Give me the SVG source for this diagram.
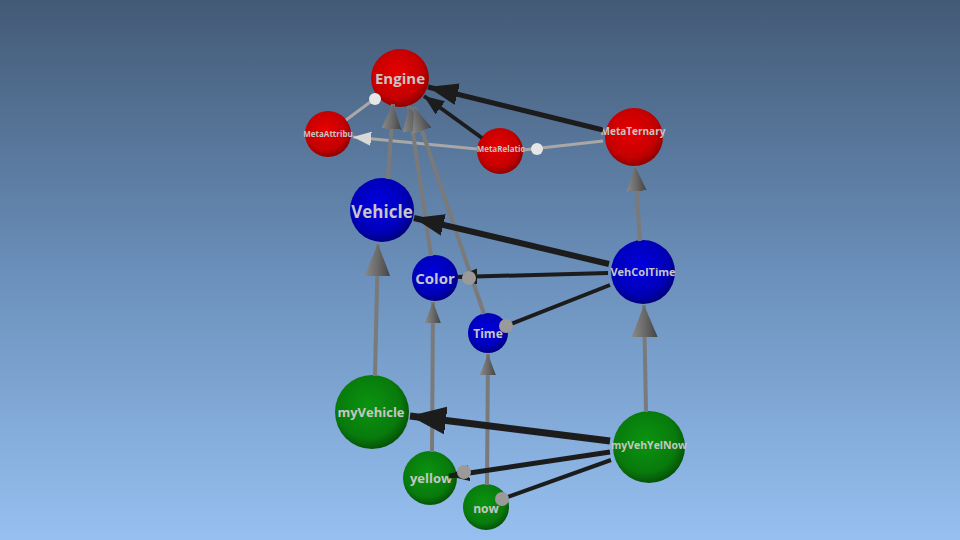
<svg xmlns="http://www.w3.org/2000/svg" width="960" height="540" viewBox="0 0 960 540">
<defs>
<linearGradient id="bg" x1="0" y1="0" x2="0" y2="1">
<stop offset="0" stop-color="#435a76"/>
<stop offset="0.5" stop-color="#6a8fba"/>
<stop offset="1" stop-color="#97c0f0"/>
</linearGradient>
<radialGradient id="red" cx="0.45" cy="0.42" r="0.62">
<stop offset="0" stop-color="#e80000"/>
<stop offset="0.7" stop-color="#c40000"/>
<stop offset="1" stop-color="#800000"/>
</radialGradient>
<radialGradient id="blue" cx="0.45" cy="0.42" r="0.62">
<stop offset="0" stop-color="#0000e0"/>
<stop offset="0.7" stop-color="#0000b8"/>
<stop offset="1" stop-color="#000070"/>
</radialGradient>
<radialGradient id="green" cx="0.45" cy="0.42" r="0.62">
<stop offset="0" stop-color="#0b9410"/>
<stop offset="0.7" stop-color="#087a0c"/>
<stop offset="1" stop-color="#044a06"/>
</radialGradient>
<linearGradient id="coneG" x1="0" y1="0" x2="0" y2="1">
<stop offset="0" stop-color="#8a8a8a"/>
<stop offset="0.5" stop-color="#6a6a6a"/>
<stop offset="1" stop-color="#444"/>
</linearGradient>
<marker id="gconeL" viewBox="0 0 32 26" refX="32" refY="13" markerWidth="32" markerHeight="26" markerUnits="userSpaceOnUse" orient="auto">
<path d="M0,0 L32,13 L0,26 Q-4,13 0,0 Z" fill="url(#coneG)"/>
</marker>
<marker id="gconeM" viewBox="0 0 25 20" refX="25" refY="10" markerWidth="25" markerHeight="20" markerUnits="userSpaceOnUse" orient="auto">
<path d="M0,0 L25,10 L0,20 Q-3,10 0,0 Z" fill="url(#coneG)"/>
</marker>
<marker id="gconeS" viewBox="0 0 21 16" refX="21" refY="8" markerWidth="21" markerHeight="16" markerUnits="userSpaceOnUse" orient="auto">
<path d="M0,0 L21,8 L0,16 Q-3,8 0,0 Z" fill="url(#coneG)"/>
</marker>
<marker id="dconeL" viewBox="0 0 36 28" refX="36" refY="14" markerWidth="36" markerHeight="28" markerUnits="userSpaceOnUse" orient="auto">
<path d="M0,0 L36,14 L0,28 Q-4,14 0,0 Z" fill="#1c1c1c"/>
</marker>
<marker id="dcone" viewBox="0 0 30 22" refX="30" refY="11" markerWidth="30" markerHeight="22" markerUnits="userSpaceOnUse" orient="auto">
<path d="M0,0 L30,11 L0,22 Q-3,11 0,0 Z" fill="#1c1c1c"/>
</marker>
<marker id="dconeS" viewBox="0 0 20 16" refX="20" refY="8" markerWidth="20" markerHeight="16" markerUnits="userSpaceOnUse" orient="auto">
<path d="M0,0 L20,8 L0,16 Q-2,8 0,0 Z" fill="#1c1c1c"/>
</marker>
<marker id="wcone" viewBox="0 0 18 14" refX="18" refY="7" markerWidth="18" markerHeight="14" markerUnits="userSpaceOnUse" orient="auto">
<path d="M0,0 L18,7 L0,14 Q-3,7 0,0 Z" fill="#d8d8d8"/>
</marker>
<style>
.bg{fill:url(#bg)}
.grey{stroke:#7a7a7a;stroke-width:4;fill:none}
.gL{marker-end:url(#gconeL)}
.gM{marker-end:url(#gconeM)}
.gS{marker-end:url(#gconeS)}
.dark{stroke:#1c1c1c;stroke-width:6;fill:none}
.dL{stroke-width:7;marker-end:url(#dconeL)}
.dM{marker-end:url(#dcone)}
.dS{stroke-width:4;marker-end:url(#dconeS)}
.dT{stroke-width:4}
.light{stroke:#a8a8a8;stroke-width:3;fill:none}
.ball{fill:#9a9a9a}
.wball{fill:#e6e6e6}
.r{fill:url(#red)}
.b{fill:url(#blue)}
.g{fill:url(#green)}
text{font-family:"Open Sans","DejaVu Sans",sans-serif;font-weight:bold;fill:#c6c6c6;text-anchor:middle;dominant-baseline:central}
</style>
</defs>
<rect class="bg" x="0" y="0" width="960" height="540"/>

<g id="Engine"><circle class="r" cx="400" cy="78" r="29"/><text x="400" y="78" font-size="15">Engine</text></g>
<g id="MetaAttribute"><circle class="r" cx="328" cy="134" r="23"/><text x="328" y="133" font-size="8">MetaAttribu</text></g>
<g id="MetaRelation"><circle class="r" cx="500" cy="151" r="23"/><text x="501" y="148" font-size="8">MetaRelatio</text></g>
<g id="MetaTernary"><circle class="r" cx="634" cy="137" r="29"/><text x="633" y="131" font-size="10">MetaTernary</text></g>
<g id="Vehicle"><circle class="b" cx="382" cy="210" r="32"/><text x="382" y="211" font-size="17">Vehicle</text></g>
<g id="Color"><circle class="b" cx="435" cy="278" r="23"/><text x="435" y="278" font-size="15">Color</text></g>
<g id="Time"><circle class="b" cx="488" cy="333" r="20"/><text x="488" y="333" font-size="12">Time</text></g>
<g id="VehColTime"><circle class="b" cx="643" cy="272" r="32"/><text x="643" y="271" font-size="11">VehColTime</text></g>
<g id="myVehicle"><circle class="g" cx="372" cy="412" r="37"/><text x="371" y="412" font-size="13">myVehicle</text></g>
<g id="yellow"><circle class="g" cx="430" cy="478" r="27"/><text x="431" y="478" font-size="13">yellow</text></g>
<g id="now"><circle class="g" cx="486" cy="507" r="23"/><text x="486" y="508" font-size="12">now</text></g>
<g id="myVehYelNow"><circle class="g" cx="649" cy="447" r="36"/><text x="649" y="445" font-size="10.5">myVehYelNow</text></g>

<g id="connectors">
<line class="light" x1="346" y1="120" x2="373" y2="100"/>
<circle class="wball" cx="375" cy="99" r="6"/>
<line class="light" x1="477" y1="149" x2="353" y2="137" style="marker-end:url(#wcone)"/>
<line class="light" x1="603" y1="141" x2="523" y2="150"/>
<circle class="wball" cx="537" cy="149" r="6"/>
<line class="dark dS" x1="482" y1="138" x2="424" y2="96"/>
<line class="dark dM" x1="603" y1="130" x2="428" y2="87" style="stroke-width:5"/>
<line class="grey gM" x1="388" y1="179" x2="393" y2="104"/>
<line class="grey gM" x1="431" y1="256" x2="409" y2="106"/>
<line class="grey gM" x1="484" y1="314" x2="414" y2="107"/>
<line class="grey gM" x1="640" y1="241" x2="635" y2="166"/>
<line class="dark dM" x1="609" y1="264" x2="414" y2="218"/>
<line class="dark dS" x1="608" y1="273" x2="457" y2="277"/>
<circle class="ball" cx="469" cy="278" r="7"/>
<line class="dark dT" x1="610" y1="285" x2="506" y2="326"/>
<circle class="ball" cx="506" cy="326" r="7"/>
<line class="grey gL" x1="375" y1="376" x2="378" y2="244"/>
<line class="grey gS" x1="432" y1="452" x2="433" y2="302"/>
<line class="grey gS" x1="487" y1="485" x2="488" y2="354"/>
<line class="grey gL" x1="646" y1="412" x2="644" y2="305"/>
<line class="dark dL" x1="610" y1="441" x2="410" y2="416"/>
<line class="dark dS" x1="610" y1="452" x2="449" y2="476" style="stroke-width:5"/>
<circle class="ball" cx="464" cy="472" r="7"/>
<line class="dark dT" x1="611" y1="460" x2="502" y2="499"/>
<circle class="ball" cx="502" cy="499" r="7"/>
</g>
</svg>
